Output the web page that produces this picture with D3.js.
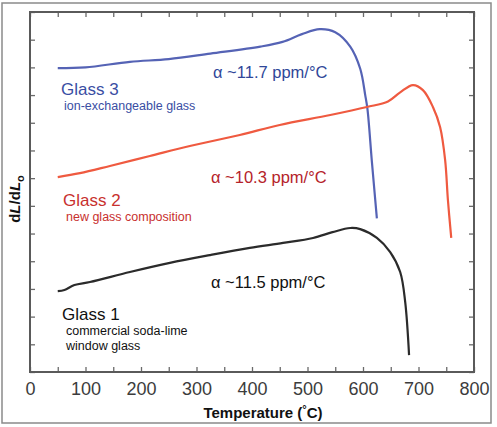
<!DOCTYPE html>
<html>
<head>
<meta charset="utf-8">
<script src="https://cdn.jsdelivr.net/npm/d3@7"></script>
<style>
  body { margin: 0; background: #fff; }
  svg { display: block; font-family: "Liberation Sans", Arial, sans-serif; }
</style>
</head>
<body>
<div id="chart"></div>
<script>
// temperature (°C) / relative dL/dLo (arbitrary units 0-13)
var glass3T = [50, 100, 180, 250, 325, 415, 455, 490, 522, 550, 577, 595, 604, 608, 616, 625];
var glass3V = [10.97, 11.0, 11.2, 11.3, 11.5, 11.75, 11.92, 12.2, 12.38, 12.27, 11.75, 10.95, 10.0, 9.5, 7.6, 5.55];

var glass2T = [50, 90, 144, 216, 288, 378, 450, 541, 607, 645, 667, 690, 708, 726, 739, 748, 753, 759];
var glass2V = [7.04, 7.18, 7.44, 7.8, 8.16, 8.56, 8.92, 9.28, 9.57, 9.77, 10.1, 10.36, 10.18, 9.57, 8.84, 7.65, 6.21, 4.84];

var glass1T = [50, 62, 80, 108, 180, 252, 324, 396, 456, 510, 545, 577, 595, 625, 649, 667, 676, 683];
var glass1V = [2.92, 2.96, 3.14, 3.25, 3.61, 3.94, 4.22, 4.48, 4.66, 4.84, 5.05, 5.2, 5.16, 4.84, 4.33, 3.61, 2.53, 0.61];

var xTicks = d3.range(0, 801, 50);
var xLabels = [0, 100, 200, 300, 400, 500, 600, 700, 800];
var yTicks = d3.range(0, 14, 1);

var width = 497, height = 427;
var margin = {top: 12, right: 23, bottom: 55, left: 30};

var svg = d3.select("#chart").append("svg")
    .attr("width", width)
    .attr("height", height);

// outer border round the figure
svg.append("rect")
    .attr("x", 2).attr("y", 3)
    .attr("width", 489).attr("height", 420)
    .attr("fill", "none")
    .attr("stroke", "#8a8a8a")
    .attr("stroke-width", 1.5);

var x = d3.scaleLinear().domain([0, 800]).range([margin.left, width - margin.right]);
var y = d3.scaleLinear().domain([0, 13]).range([height - margin.bottom, margin.top]);

var tickColor = "#6a6a6a";

function styleAxis(g) {
    g.select(".domain").remove();
    g.selectAll(".tick line").attr("stroke", tickColor).attr("stroke-width", 1.3);
}

// bottom axis with labels
svg.append("g")
    .attr("transform", "translate(0," + y(0) + ")")
    .call(d3.axisBottom(x).tickValues(xTicks).tickSize(-5).tickPadding(10)
        .tickFormat(function(d) { return xLabels.indexOf(d) >= 0 ? d : ""; }))
    .call(styleAxis)
    .call(function(g) {
        g.selectAll(".tick text")
            .attr("font-size", 18)
            .attr("fill", "#3c3c3c")
            .attr("font-family", "\"Liberation Sans\", Arial, sans-serif");
    });

// top axis
svg.append("g")
    .attr("transform", "translate(0," + y(13) + ")")
    .call(d3.axisTop(x).tickValues(xTicks).tickSize(-5).tickFormat(""))
    .call(styleAxis);

// left and right axes
svg.append("g")
    .attr("transform", "translate(" + x(0) + ",0)")
    .call(d3.axisLeft(y).tickValues(yTicks).tickSize(-5).tickFormat(""))
    .call(styleAxis);

svg.append("g")
    .attr("transform", "translate(" + x(800) + ",0)")
    .call(d3.axisRight(y).tickValues(yTicks).tickSize(-5).tickFormat(""))
    .call(styleAxis);

// plot frame
svg.append("rect")
    .attr("x", x(0)).attr("y", y(13))
    .attr("width", x(800) - x(0)).attr("height", y(0) - y(13))
    .attr("fill", "none")
    .attr("stroke", "#5a5a5a")
    .attr("stroke-width", 2);

var line = d3.line()
    .x(function(d) { return x(d[0]); })
    .y(function(d) { return y(d[1]); })
    .curve(d3.curveCatmullRom.alpha(0.5));

var series = [
    {t: glass3T, v: glass3V, color: "#5563b5"},
    {t: glass2T, v: glass2V, color: "#ef5a40"},
    {t: glass1T, v: glass1V, color: "#2b2b2b"}
];

series.forEach(function(s) {
    svg.append("path")
        .datum(d3.zip(s.t, s.v))
        .attr("d", line)
        .attr("fill", "none")
        .attr("stroke", s.color)
        .attr("stroke-width", 2.2)
        .attr("stroke-linejoin", "round");
});

// annotations
var labels = [
    {text: "\u03b1 ~11.7 ppm/\u00b0C", x: 213, y: 78, size: 16.5, color: "#2f4799"},
    {text: "Glass 3", x: 61, y: 95, size: 17, color: "#3a4ea3"},
    {text: "ion-exchangeable glass", x: 64, y: 110, size: 12.5, color: "#3a4ea3"},
    {text: "\u03b1 ~10.3 ppm/\u00b0C", x: 211, y: 183, size: 16.5, color: "#b5232a"},
    {text: "Glass 2", x: 63, y: 206, size: 17, color: "#c8302e"},
    {text: "new glass composition", x: 66, y: 221, size: 12.5, color: "#c8302e"},
    {text: "\u03b1 ~11.5 ppm/\u00b0C", x: 211, y: 288, size: 16.5, color: "#111"},
    {text: "Glass 1", x: 62, y: 320, size: 17, color: "#111"},
    {text: "commercial soda-lime", x: 66, y: 335, size: 12.5, color: "#111"},
    {text: "window glass", x: 66, y: 350, size: 12.5, color: "#111"}
];

svg.selectAll(".note")
    .data(labels)
    .enter()
    .append("text")
    .attr("class", "note")
    .attr("x", function(d) { return d.x; })
    .attr("y", function(d) { return d.y; })
    .attr("font-size", function(d) { return d.size; })
    .attr("fill", function(d) { return d.color; })
    .text(function(d) { return d.text; });

// axis titles
var xt = svg.append("text")
    .attr("x", 263).attr("y", 418)
    .attr("text-anchor", "middle")
    .attr("font-size", 15)
    .attr("font-weight", "bold")
    .attr("fill", "#111");
xt.append("tspan").text("Temperature (");
xt.append("tspan").attr("font-size", 11).attr("dy", -5).text("\u00b0");
xt.append("tspan").attr("dy", 5).text("C)");

var yt = svg.append("text")
    .attr("transform", "translate(20,199) rotate(-90)")
    .attr("text-anchor", "middle")
    .attr("font-size", 15)
    .attr("font-weight", "bold")
    .attr("fill", "#111");
yt.append("tspan").text("d");
yt.append("tspan").attr("font-style", "italic").text("L");
yt.append("tspan").text("/d");
yt.append("tspan").attr("font-style", "italic").text("L");
yt.append("tspan").attr("font-size", 11).attr("dy", 4).text("o");
</script>
</body>
</html>
